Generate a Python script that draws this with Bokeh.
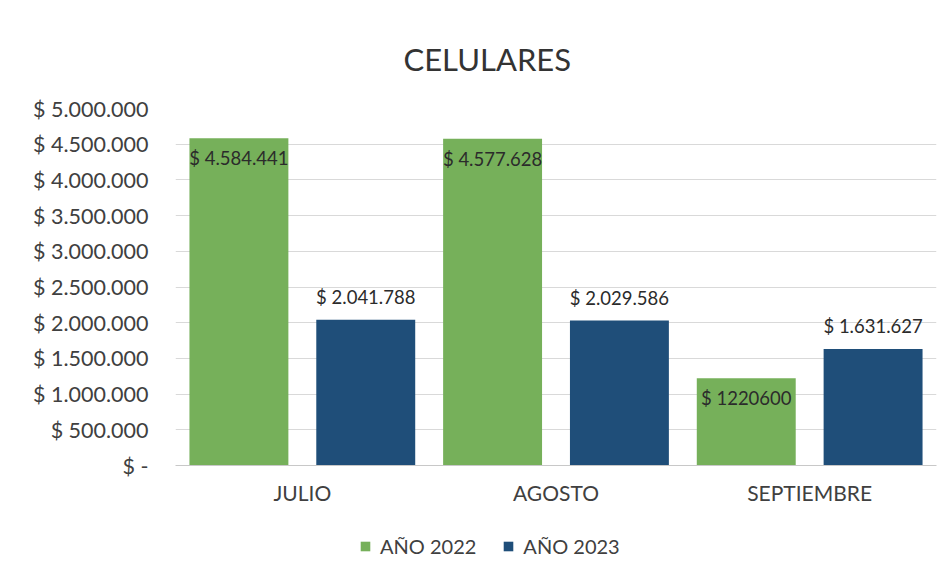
from bokeh.plotting import figure
from bokeh.layouts import column
from bokeh.models import (FactorRange, Range1d, FixedTicker, LabelSet, ColumnDataSource,
                          Legend, LegendItem, Title)
from bokeh.core.properties import value
from bokeh.transform import dodge
from bokeh.embed import file_html
from bokeh.resources import INLINE

months = ["JULIO", "AGOSTO", "SEPTIEMBRE"]
y2022 = [4584441, 4577628, 1220600]
y2023 = [2041788, 2029586, 1631627]
labels2022 = ["$ 4.584.441", "$ 4.577.628", "$ 1220600"]
labels2023 = ["$ 2.041.788", "$ 2.029.586", "$ 1.631.627"]
series_names = ["AÑO 2022", "AÑO 2023"]
ticks = [0, 500000, 1000000, 1500000, 2000000, 2500000, 3000000, 3500000, 4000000, 4500000, 5000000]
tick_labels = ["$ -", "$ 500.000", "$ 1.000.000", "$ 1.500.000", "$ 2.000.000", "$ 2.500.000",
               "$ 3.000.000", "$ 3.500.000", "$ 4.000.000", "$ 4.500.000", "$ 5.000.000"]

FONT = "Lato"
TXT = "#404040"
GREEN = "#76B05A"
BLUE = "#1F4E79"

src = ColumnDataSource(dict(m=months, a=y2022, b=y2023, la=labels2022, lb=labels2023))

p = figure(x_range=FactorRange(*months), y_range=Range1d(0, 5000000),
           frame_width=761, frame_height=357, output_backend="svg", toolbar_location=None,
           min_border_left=175, min_border_right=7, min_border_top=108, min_border_bottom=50)
p.x_range.range_padding = 0
p.outline_line_color = None
p.background_fill_color = "white"
p.border_fill_color = "white"

r1 = p.vbar(x=dodge("m", -0.25, range=p.x_range), top="a", width=0.39, source=src,
            fill_color=GREEN, line_color=None)
r2 = p.vbar(x=dodge("m", 0.25, range=p.x_range), top="b", width=0.39, source=src,
            fill_color=BLUE, line_color=None)

p.yaxis.ticker = FixedTicker(ticks=ticks)
p.yaxis.major_label_overrides = {t: l for t, l in zip(ticks, tick_labels)}
p.yaxis.axis_line_color = None
p.yaxis.major_tick_line_color = None
p.yaxis.minor_tick_line_color = None
p.yaxis.major_tick_out = 0
p.yaxis.major_label_standoff = 27
p.yaxis.major_label_text_font = FONT
p.yaxis.major_label_text_font_size = "21.5px"
p.yaxis.major_label_text_color = TXT

p.xaxis.axis_line_color = "#c8c8c8"
p.xaxis.major_tick_line_color = None
p.xaxis.minor_tick_line_color = None
p.xaxis.major_tick_out = 0
p.xaxis.major_label_standoff = 14
p.xaxis.major_label_text_font = FONT
p.xaxis.major_label_text_font_size = "21px"
p.xaxis.major_label_text_color = TXT

p.xgrid.grid_line_color = None
p.ygrid.grid_line_color = "#d9d9d9"

la = LabelSet(x=dodge("m", -0.25, range=p.x_range), y="a", text="la", source=src,
              text_align="center", text_baseline="top", y_offset=-9,
              text_font=value(FONT), text_font_size="18.5px", text_color="#2b2b2b")
lb = LabelSet(x=dodge("m", 0.25, range=p.x_range), y="b", text="lb", source=src,
              text_align="center", text_baseline="bottom", y_offset=12,
              text_font=value(FONT), text_font_size="18.5px", text_color="#2b2b2b")
p.add_layout(la)
p.add_layout(lb)

title = Title(text="CELULARES", align="left", offset=228, text_font=FONT,
              text_font_size="31px", text_font_style="normal", text_color="#333333",
              standoff=61)
p.add_layout(title, "above")

# legend strip below the chart (zero-height bars only provide the legend swatches)
pl = figure(width=943, height=56, x_range=FactorRange(*months), y_range=Range1d(0, 1),
            output_backend="svg", toolbar_location=None, min_border=0)
pl.axis.visible = False
pl.grid.visible = False
pl.outline_line_color = None
pl.border_fill_color = "white"
g1 = pl.vbar(x="m", bottom=0, top=0, width=0.1, source=src, fill_color=GREEN, line_color=None)
g2 = pl.vbar(x="m", bottom=0, top=0, width=0.1, source=src, fill_color=BLUE, line_color=None)
legend = Legend(items=[LegendItem(label=series_names[0], renderers=[g1]),
                       LegendItem(label=series_names[1], renderers=[g2])],
                orientation="horizontal", location=(184, 13),
                glyph_width=12, glyph_height=12, label_standoff=9, spacing=26,
                padding=0, margin=0, border_line_color=None, background_fill_alpha=0,
                label_text_font=FONT, label_text_font_size="20px", label_text_color=TXT,
                label_height=20)
pl.add_layout(legend)

layout = column(p, pl, spacing=0)
open("out.html", "w").write(file_html(layout, INLINE))
